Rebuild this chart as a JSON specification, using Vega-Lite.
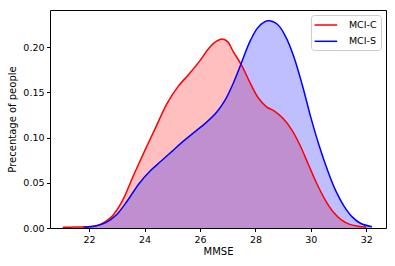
{
  "$schema": "https://vega.github.io/schema/vega-lite/v6.json",
  "width": 336,
  "height": 218,
  "autosize": {"type": "none"},
  "padding": {"left": 50, "top": 10, "right": 9, "bottom": 38},
  "background": "white",
  "config": {
    "font": "DejaVu Sans",
    "view": {"stroke": "#000000", "strokeWidth": 1},
    "axis": {
      "domain": false,
      "grid": false,
      "tickColor": "#000000",
      "tickSize": 3.5,
      "labelColor": "#000000",
      "labelFontSize": 9.5,
      "labelFont": "DejaVu Sans",
      "titleFont": "DejaVu Sans",
      "titleFontSize": 10,
      "titleFontWeight": "normal",
      "titleColor": "#000000",
      "labelPadding": 2.5
    },
    "legend": {
      "orient": "top-right",
      "offset": 5,
      "symbolType": "M-2.26,0H2.26",
      "symbolSize": 100,
      "symbolOffset": 4.9,
      "symbolStrokeWidth": 1.5,
      "labelFontSize": 9.5,
      "labelColor": "#000000",
      "labelFont": "DejaVu Sans",
      "fillColor": "white",
      "strokeColor": "#cccccc",
      "cornerRadius": 3,
      "padding": 4,
      "rowPadding": 5.3,
      "labelOffset": 17
    }
  },
  "data": {
    "values": [
      {"s": "MCI-C", "x": 21.05, "y": 0.0008},
      {"s": "MCI-C", "x": 21.5, "y": 0.001},
      {"s": "MCI-C", "x": 22.0, "y": 0.0015},
      {"s": "MCI-C", "x": 22.4, "y": 0.004},
      {"s": "MCI-C", "x": 22.8, "y": 0.012},
      {"s": "MCI-C", "x": 23.2, "y": 0.03},
      {"s": "MCI-C", "x": 23.6, "y": 0.058},
      {"s": "MCI-C", "x": 24.0, "y": 0.085},
      {"s": "MCI-C", "x": 24.4, "y": 0.111},
      {"s": "MCI-C", "x": 24.8, "y": 0.137},
      {"s": "MCI-C", "x": 25.2, "y": 0.156},
      {"s": "MCI-C", "x": 25.6, "y": 0.17},
      {"s": "MCI-C", "x": 26.0, "y": 0.185},
      {"s": "MCI-C", "x": 26.3, "y": 0.198},
      {"s": "MCI-C", "x": 26.6, "y": 0.2065},
      {"s": "MCI-C", "x": 26.8, "y": 0.209},
      {"s": "MCI-C", "x": 27.0, "y": 0.206},
      {"s": "MCI-C", "x": 27.2, "y": 0.195},
      {"s": "MCI-C", "x": 27.5, "y": 0.18},
      {"s": "MCI-C", "x": 27.8, "y": 0.161},
      {"s": "MCI-C", "x": 28.1, "y": 0.144},
      {"s": "MCI-C", "x": 28.4, "y": 0.134},
      {"s": "MCI-C", "x": 28.7, "y": 0.129},
      {"s": "MCI-C", "x": 29.0, "y": 0.121},
      {"s": "MCI-C", "x": 29.3, "y": 0.109},
      {"s": "MCI-C", "x": 29.6, "y": 0.092},
      {"s": "MCI-C", "x": 29.9, "y": 0.071},
      {"s": "MCI-C", "x": 30.2, "y": 0.05},
      {"s": "MCI-C", "x": 30.5, "y": 0.032},
      {"s": "MCI-C", "x": 30.8, "y": 0.018},
      {"s": "MCI-C", "x": 31.1, "y": 0.009},
      {"s": "MCI-C", "x": 31.4, "y": 0.004},
      {"s": "MCI-C", "x": 31.7, "y": 0.002},
      {"s": "MCI-C", "x": 32.0, "y": 0.001},
      {"s": "MCI-S", "x": 21.8, "y": 0.001},
      {"s": "MCI-S", "x": 22.2, "y": 0.002},
      {"s": "MCI-S", "x": 22.6, "y": 0.006},
      {"s": "MCI-S", "x": 23.0, "y": 0.015},
      {"s": "MCI-S", "x": 23.4, "y": 0.031},
      {"s": "MCI-S", "x": 23.8, "y": 0.049},
      {"s": "MCI-S", "x": 24.2, "y": 0.063},
      {"s": "MCI-S", "x": 24.6, "y": 0.074},
      {"s": "MCI-S", "x": 25.0, "y": 0.085},
      {"s": "MCI-S", "x": 25.4, "y": 0.096},
      {"s": "MCI-S", "x": 25.8, "y": 0.106},
      {"s": "MCI-S", "x": 26.2, "y": 0.116},
      {"s": "MCI-S", "x": 26.6, "y": 0.128},
      {"s": "MCI-S", "x": 26.9, "y": 0.141},
      {"s": "MCI-S", "x": 27.2, "y": 0.16},
      {"s": "MCI-S", "x": 27.5, "y": 0.183},
      {"s": "MCI-S", "x": 27.8, "y": 0.206},
      {"s": "MCI-S", "x": 28.1, "y": 0.222},
      {"s": "MCI-S", "x": 28.45, "y": 0.229},
      {"s": "MCI-S", "x": 28.8, "y": 0.225},
      {"s": "MCI-S", "x": 29.1, "y": 0.211},
      {"s": "MCI-S", "x": 29.4, "y": 0.188},
      {"s": "MCI-S", "x": 29.7, "y": 0.157},
      {"s": "MCI-S", "x": 30.0, "y": 0.122},
      {"s": "MCI-S", "x": 30.3, "y": 0.091},
      {"s": "MCI-S", "x": 30.6, "y": 0.064},
      {"s": "MCI-S", "x": 30.9, "y": 0.041},
      {"s": "MCI-S", "x": 31.2, "y": 0.024},
      {"s": "MCI-S", "x": 31.5, "y": 0.012},
      {"s": "MCI-S", "x": 31.8, "y": 0.005},
      {"s": "MCI-S", "x": 32.2, "y": 0.0015}
    ]
  },
  "encoding": {
    "x": {
      "field": "x", "type": "quantitative", "title": "MMSE",
      "scale": {"domain": [20.59, 32.71], "nice": false, "zero": false},
      "axis": {"values": [22, 24, 26, 28, 30, 32], "titlePadding": 3}
    },
    "y": {
      "field": "y", "type": "quantitative", "title": "Precentage of people",
      "stack": null,
      "scale": {"domain": [0, 0.241], "nice": false},
      "axis": {"values": [0, 0.05, 0.1, 0.15, 0.2], "format": ".2f", "titlePadding": 5}
    },
    "color": {
      "field": "s", "type": "nominal", "title": null,
      "scale": {"domain": ["MCI-C", "MCI-S"], "range": ["#ff0000", "#0000ff"]}
    }
  },
  "layer": [
    {
      "mark": {"type": "area", "interpolate": "catmull-rom", "fillOpacity": 0.25}
    },
    {
      "mark": {"type": "line", "interpolate": "catmull-rom", "strokeWidth": 1.5}
    }
  ]
}
